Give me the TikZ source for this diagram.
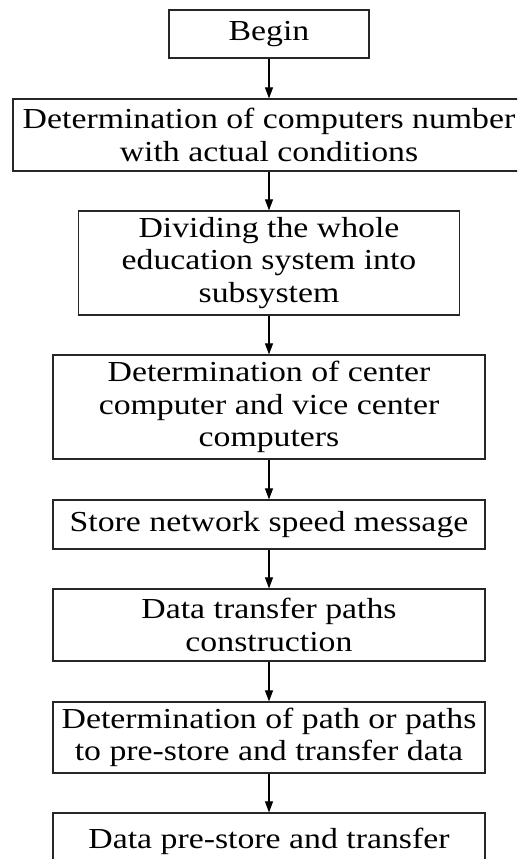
\documentclass[tikz,border=0pt]{standalone}
\usepackage{fontspec}
\setmainfont[FakeStretch=1.165]{Liberation Serif}
\usetikzlibrary{arrows.meta}
\begin{document}
\begin{tikzpicture}[x=1pt,y=-1pt,
  stepbox/.style={draw=black!85,line width=1.2pt,align=center,inner sep=0pt,
    font=\fontsize{29}{32.7}\selectfont},
  flow/.style={draw=black,line width=1.1pt,-{Triangle[length=11pt,width=8pt]}}]
\useasboundingbox (0,0) rectangle (517,859);
\clip (0,0) rectangle (517,859);
\node[stepbox,minimum width=200pt,minimum height=48pt] (b1) at (269,34) {Begin};
\node[stepbox,minimum width=512pt,minimum height=72pt] (b2) at (269,135) {Determination of computers number\\with actual conditions};
\node[stepbox,minimum width=381pt,minimum height=104pt] (b3) at (269,263) {Dividing the whole\\education system into\\subsystem};
\node[stepbox,minimum width=432pt,minimum height=104pt] (b4) at (269,407) {Determination of center\\computer and vice center\\computers};
\node[stepbox,minimum width=432pt,minimum height=49pt] (b5) at (269,524.5) {Store network speed message};
\node[stepbox,minimum width=432pt,minimum height=72pt] (b6) at (269,625) {Data transfer paths\\construction};
\node[stepbox,minimum width=432pt,minimum height=71pt] (b7) at (269,737.5) {Determination of path or paths\\to pre-store and transfer data};
\node[stepbox,minimum width=432pt,minimum height=56pt] (b8) at (269,841) {Data pre-store and transfer};
\draw[flow] (b1.south) -- (b2.north);
\draw[flow] (b2.south) -- (b3.north);
\draw[flow] (b3.south) -- (b4.north);
\draw[flow] (b4.south) -- (b5.north);
\draw[flow] (b5.south) -- (b6.north);
\draw[flow] (b6.south) -- (b7.north);
\draw[flow] (b7.south) -- (b8.north);
\end{tikzpicture}
\end{document}
